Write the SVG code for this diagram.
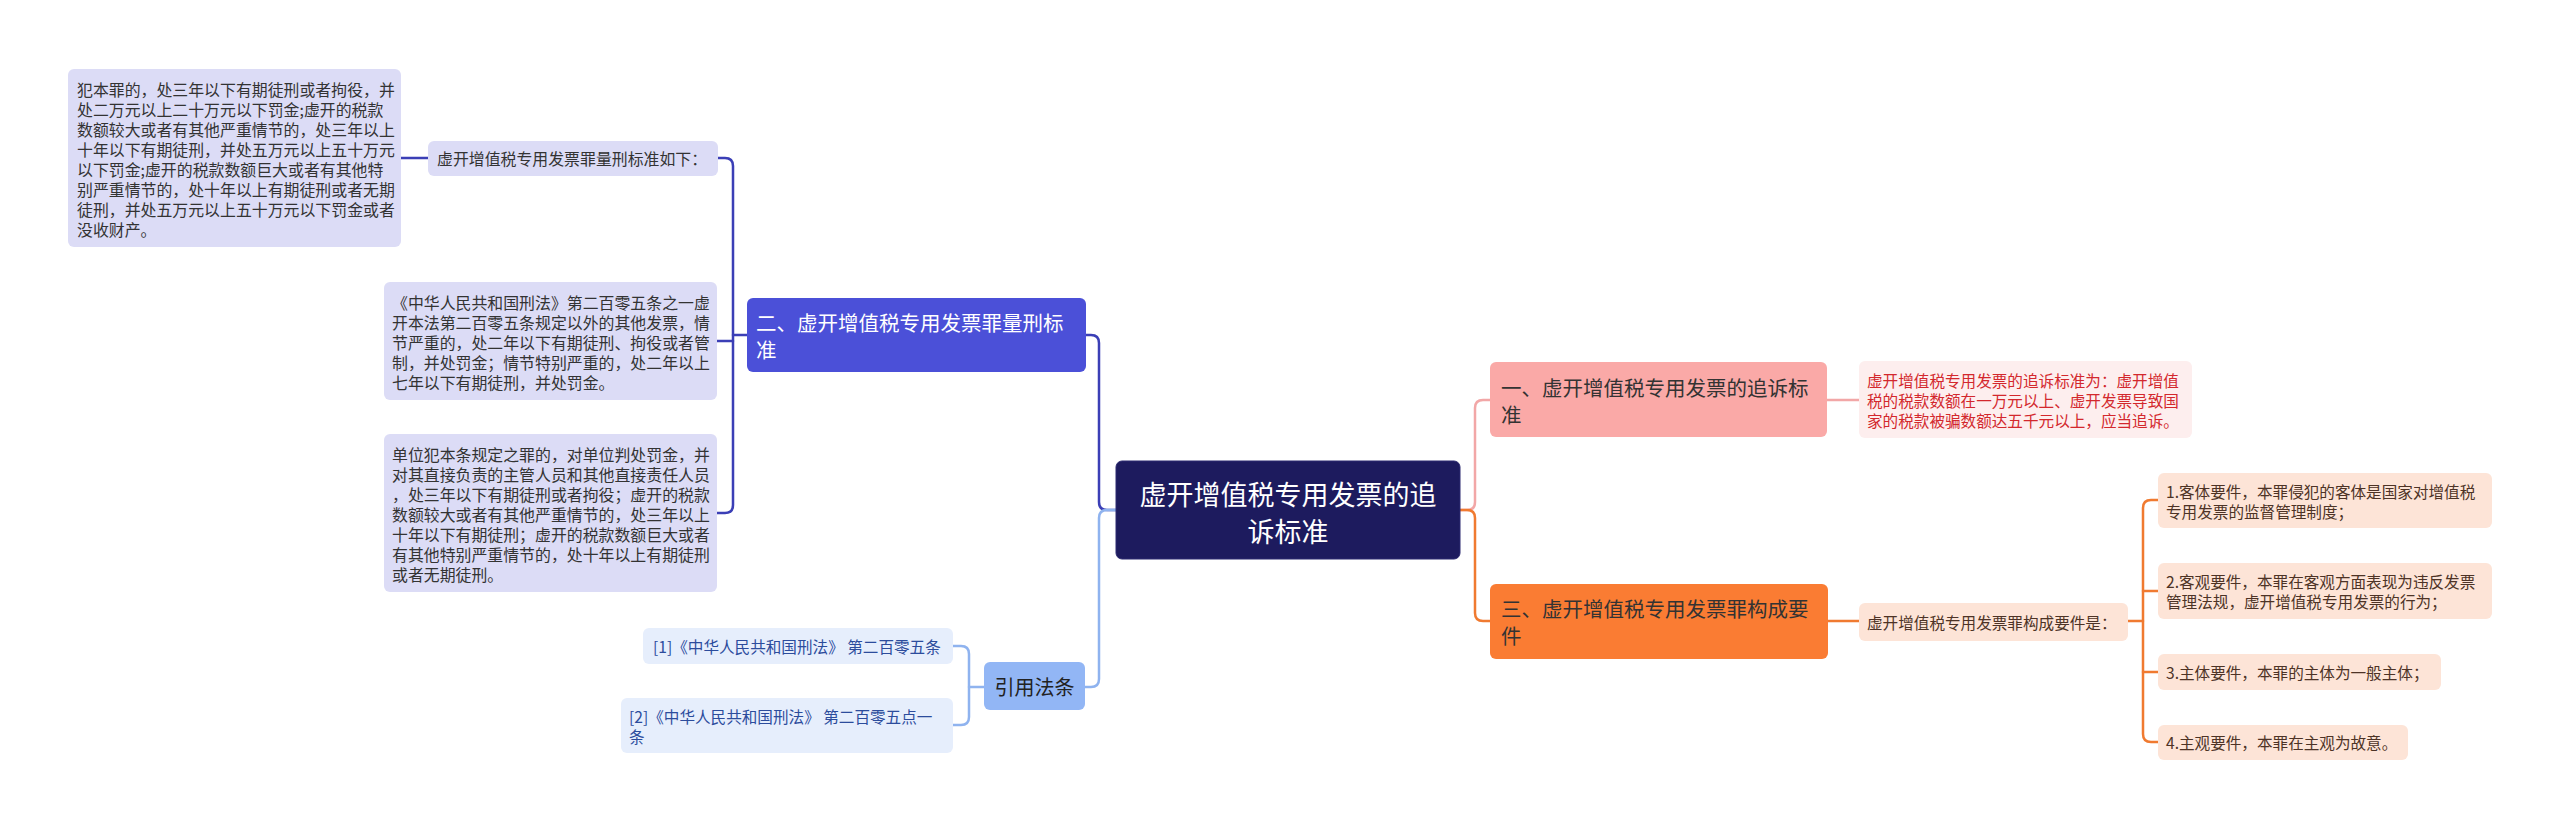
<svg xmlns="http://www.w3.org/2000/svg" width="2560" height="829" viewBox="0 0 2560 829">
<style>
text{font-family:"Noto Sans CJK SC","Noto Sans",sans-serif;dominant-baseline:central}
.s{font-size:15.6px}
.sl{font-size:15.9px}
.m{font-size:20.5px}
.lav rect{fill:#dcdcf6}
.lav text{fill:#333333}
.blu rect{fill:#e6eefc}
.blu text{fill:#2c4c9c}
.pch rect{fill:#fde4d7}
.pch text{fill:#4d3326}
.c{fill:none;stroke-width:2.5;stroke-linecap:round}
.cd{stroke:#3b3fb6}
.cl{stroke:#8fb3ef}
.cp{stroke:#f2a7a7}
.co{stroke:#f07a30}
</style>
<rect width="2560" height="829" fill="#ffffff"/>
<g id="connectors">
<path class="c cd" d="M1116,510 H1107 Q1099,510 1099,502 V343 Q1099,335 1091,335 H1086"/>
<path class="c cl" d="M1116,510 H1107 Q1099,510 1099,518 V679 Q1099,687 1091,687 H1085"/>
<path class="c cd" d="M747,335 H733"/>
<path class="c cd" d="M718,158 H725 Q733,158 733,166 V505 Q733,513 725,513 H717"/>
<path class="c cd" d="M717,341 H733"/>
<path class="c cd" d="M401,158 H428"/>
<path class="c cl" d="M984,687 H969"/>
<path class="c cl" d="M953,646 H961 Q969,646 969,654 V717 Q969,725 961,725 H953"/>
<path class="c cp" d="M1460,510 H1467 Q1475,510 1475,502 V408 Q1475,400 1483,400 H1490"/>
<path class="c co" d="M1460,510 H1467 Q1475,510 1475,518 V613 Q1475,621 1483,621 H1490"/>
<path class="c cp" d="M1827,400 H1859"/>
<path class="c co" d="M1828,621 H1859"/>
<path class="c co" d="M2128,621 H2143"/>
<path class="c co" d="M2158,500 H2151 Q2143,500 2143,508 V734 Q2143,742 2151,742 H2158"/>
<path class="c co" d="M2143,591 H2158"/>
<path class="c co" d="M2143,672 H2158"/>
</g>
<g id="root">
<rect x="1116" y="461" width="344" height="98" rx="6" fill="#1d1b5e" stroke="#2c2a70" stroke-width="1"/>
<text x="1288" y="493" font-size="27" fill="#ffffff" text-anchor="middle">虚开增值税专用发票的追</text>
<text x="1288" y="530" font-size="27" fill="#ffffff" text-anchor="middle">诉标准</text>
</g>
<g id="n2">
<rect x="747" y="298" width="339" height="74" rx="6" fill="#4b50d8"/>
<text class="m" x="756" y="322" fill="#ffffff">二、虚开增值税专用发票罪量刑标</text>
<text class="m" x="756" y="349" fill="#ffffff">准</text>
</g>
<g id="n2a" class="lav">
<rect x="428" y="141" width="290" height="35" rx="6"/>
<text class="sl" x="437" y="158.5">虚开增值税专用发票罪量刑标准如下：</text>
</g>
<g id="n2a1" class="lav">
<rect x="68" y="69" width="333" height="178" rx="6"/>
<text class="sl" x="77" y="89">犯本罪的，处三年以下有期徒刑或者拘役，并</text>
<text class="sl" x="77" y="109">处二万元以上二十万元以下罚金;虚开的税款</text>
<text class="sl" x="77" y="129">数额较大或者有其他严重情节的，处三年以上</text>
<text class="sl" x="77" y="149">十年以下有期徒刑，并处五万元以上五十万元</text>
<text class="sl" x="77" y="169">以下罚金;虚开的税款数额巨大或者有其他特</text>
<text class="sl" x="77" y="189">别严重情节的，处十年以上有期徒刑或者无期</text>
<text class="sl" x="77" y="209">徒刑，并处五万元以上五十万元以下罚金或者</text>
<text class="sl" x="77" y="229">没收财产。</text>
</g>
<g id="n2b" class="lav">
<rect x="384" y="282" width="333" height="118" rx="6"/>
<text class="sl" x="392" y="302">《中华人民共和国刑法》第二百零五条之一虚</text>
<text class="sl" x="392" y="322">开本法第二百零五条规定以外的其他发票，情</text>
<text class="sl" x="392" y="342">节严重的，处二年以下有期徒刑、拘役或者管</text>
<text class="sl" x="392" y="362">制，并处罚金；情节特别严重的，处二年以上</text>
<text class="sl" x="392" y="382">七年以下有期徒刑，并处罚金。</text>
</g>
<g id="n2c" class="lav">
<rect x="384" y="434" width="333" height="158" rx="6"/>
<text class="sl" x="392" y="454">单位犯本条规定之罪的，对单位判处罚金，并</text>
<text class="sl" x="392" y="474">对其直接负责的主管人员和其他直接责任人员</text>
<text class="sl" x="392" y="494">，处三年以下有期徒刑或者拘役；虚开的税款</text>
<text class="sl" x="392" y="514">数额较大或者有其他严重情节的，处三年以上</text>
<text class="sl" x="392" y="534">十年以下有期徒刑；虚开的税款数额巨大或者</text>
<text class="sl" x="392" y="554">有其他特别严重情节的，处十年以上有期徒刑</text>
<text class="sl" x="392" y="574">或者无期徒刑。</text>
</g>
<g id="ref">
<rect x="984" y="662" width="101" height="48" rx="6" fill="#92b6f5"/>
<text x="1034.5" y="686" font-size="20" fill="#222222" text-anchor="middle">引用法条</text>
</g>
<g id="ref1" class="blu">
<rect x="643" y="628" width="310" height="36" rx="6"/>
<text class="s" x="653" y="646">[1]《中华人民共和国刑法》 第二百零五条</text>
</g>
<g id="ref2" class="blu">
<rect x="621" y="698" width="332" height="55" rx="6"/>
<text class="s" x="629" y="716">[2]《中华人民共和国刑法》 第二百零五点一</text>
<text class="s" x="629" y="736">条</text>
</g>
<g id="n1">
<rect x="1490" y="362" width="337" height="75" rx="6" fill="#faa9a7"/>
<text class="m" x="1501" y="387" fill="#333333">一、虚开增值税专用发票的追诉标</text>
<text class="m" x="1501" y="414" fill="#333333">准</text>
</g>
<g id="n1a">
<rect x="1859" y="361" width="333" height="77" rx="6" fill="#fdeeee"/>
<text class="s" x="1867" y="380" fill="#d3282d">虚开增值税专用发票的追诉标准为：虚开增值</text>
<text class="s" x="1867" y="400" fill="#d3282d">税的税款数额在一万元以上、虚开发票导致国</text>
<text class="s" x="1867" y="420" fill="#d3282d">家的税款被骗数额达五千元以上，应当追诉。</text>
</g>
<g id="n3">
<rect x="1490" y="584" width="338" height="75" rx="6" fill="#fa7c33"/>
<text class="m" x="1501" y="608" fill="#333333">三、虚开增值税专用发票罪构成要</text>
<text class="m" x="1501" y="635" fill="#333333">件</text>
</g>
<g id="n3a" class="pch">
<rect x="1859" y="603" width="269" height="38" rx="6"/>
<text class="s" x="1867" y="622">虚开增值税专用发票罪构成要件是：</text>
</g>
<g id="n3a1" class="pch">
<rect x="2158" y="473" width="334" height="55" rx="6"/>
<text class="s" x="2166" y="491">1.客体要件，本罪侵犯的客体是国家对增值税</text>
<text class="s" x="2166" y="511">专用发票的监督管理制度；</text>
</g>
<g id="n3a2" class="pch">
<rect x="2158" y="563" width="334" height="56" rx="6"/>
<text class="s" x="2166" y="581">2.客观要件，本罪在客观方面表现为违反发票</text>
<text class="s" x="2166" y="601">管理法规，虚开增值税专用发票的行为；</text>
</g>
<g id="n3a3" class="pch">
<rect x="2158" y="654" width="283" height="36" rx="6"/>
<text class="s" x="2166" y="672">3.主体要件，本罪的主体为一般主体；</text>
</g>
<g id="n3a4" class="pch">
<rect x="2158" y="725" width="250" height="35" rx="6"/>
<text class="s" x="2166" y="742">4.主观要件，本罪在主观为故意。</text>
</g>
</svg>
